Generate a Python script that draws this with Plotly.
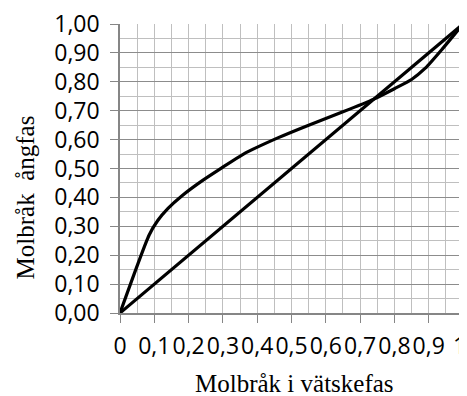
import plotly.graph_objects as go

# Equilibrium curve (liquid mole fraction x, vapour mole fraction y)
x_liquid = [0, 0.085, 0.11, 0.14, 0.18, 0.24, 0.29, 0.36, 0.46, 0.55, 0.65, 0.74, 0.80, 0.85, 0.89, 0.94, 1.0]
y_vapour = [0, 0.270, 0.320, 0.362, 0.405, 0.458, 0.497, 0.550, 0.606, 0.650, 0.696, 0.740, 0.776, 0.808, 0.847, 0.914, 1.0]

# Diagonal y = x
x_diag = [0, 1]
y_diag = [0, 1]

x_tickvals = [0, 0.1, 0.2, 0.3, 0.4, 0.5, 0.6, 0.7, 0.8, 0.9, 1.0]
x_ticktext = ["0", "0,1", "0,2", "0,3", "0,4", "0,5", "0,6", "0,7", "0,8", "0,9", "1"]
y_tickvals = [0, 0.1, 0.2, 0.3, 0.4, 0.5, 0.6, 0.7, 0.8, 0.9, 1.0]
y_ticktext = ["0,00", "0,10", "0,20", "0,30", "0,40", "0,50", "0,60", "0,70", "0,80", "0,90", "1,00"]

x_title = "Molbråk i vätskefas"
y_title = "Molbråk  ångfas"

fig = go.Figure()
fig.add_trace(go.Scatter(x=x_liquid, y=y_vapour, mode="lines",
                         line=dict(color="black", width=3.2, shape="spline", smoothing=0.6),
                         showlegend=False, hoverinfo="skip", cliponaxis=False))
fig.add_trace(go.Scatter(x=x_diag, y=y_diag, mode="lines",
                         line=dict(color="black", width=3.2),
                         showlegend=False, hoverinfo="skip", cliponaxis=False))

tick_font = dict(family="'Open Sans', sans-serif", size=23, color="black")
title_font = dict(family="'Liberation Serif', 'Times New Roman', serif", size=25, color="black")

# last x tick label sits at the window edge: draw it right-aligned so it stays visible
x_ticktext_axis = x_ticktext[:-1] + [""]

fig.update_layout(
    width=459, height=388,
    margin=dict(l=112, r=4, t=16, b=83, autoexpand=False),
    paper_bgcolor="white", plot_bgcolor="white",
    xaxis=dict(range=[0, 1], tickvals=x_tickvals, ticktext=x_ticktext_axis, automargin=False,
               ticks="outside", ticklen=8, tickcolor="#868686", tickwidth=1,
               ticklabelstandoff=4, ticklabeloverflow="allow",
               showline=True, linecolor="#868686", linewidth=1.5,
               showgrid=True, gridcolor="#bfbfbf", gridwidth=1,
               minor=dict(dtick=0.05, showgrid=True, gridcolor="#bfbfbf", gridwidth=1),
               tickfont=tick_font, zeroline=False, fixedrange=True),
    yaxis=dict(range=[0, 1], tickvals=y_tickvals, ticktext=y_ticktext, automargin=False,
               ticks="outside", ticklen=8, tickcolor="#868686", tickwidth=1,
               ticklabelstandoff=6, ticklabeloverflow="allow",
               showline=True, linecolor="#868686", linewidth=1.5,
               showgrid=True, gridcolor="#8c8c8c", gridwidth=1,
               minor=dict(dtick=0.05, showgrid=True, gridcolor="#bfbfbf", gridwidth=1),
               tickfont=tick_font, zeroline=False, fixedrange=True),
    annotations=[
        dict(text=x_ticktext[-1], xref="x", yref="paper", x=x_tickvals[-1], y=0,
             xanchor="right", yanchor="middle", xshift=4, yshift=-32,
             showarrow=False, font=tick_font, borderpad=0),
        dict(text=x_title, xref="paper", yref="paper", x=0.51, y=0, yshift=-70,
             xanchor="center", yanchor="middle", showarrow=False, font=title_font),
        dict(text=y_title, xref="paper", yref="paper", x=0, xshift=-95, y=0.40,
             xanchor="center", yanchor="middle", textangle=-90, showarrow=False, font=title_font),
    ],
)

fig.write_html("out.html")
